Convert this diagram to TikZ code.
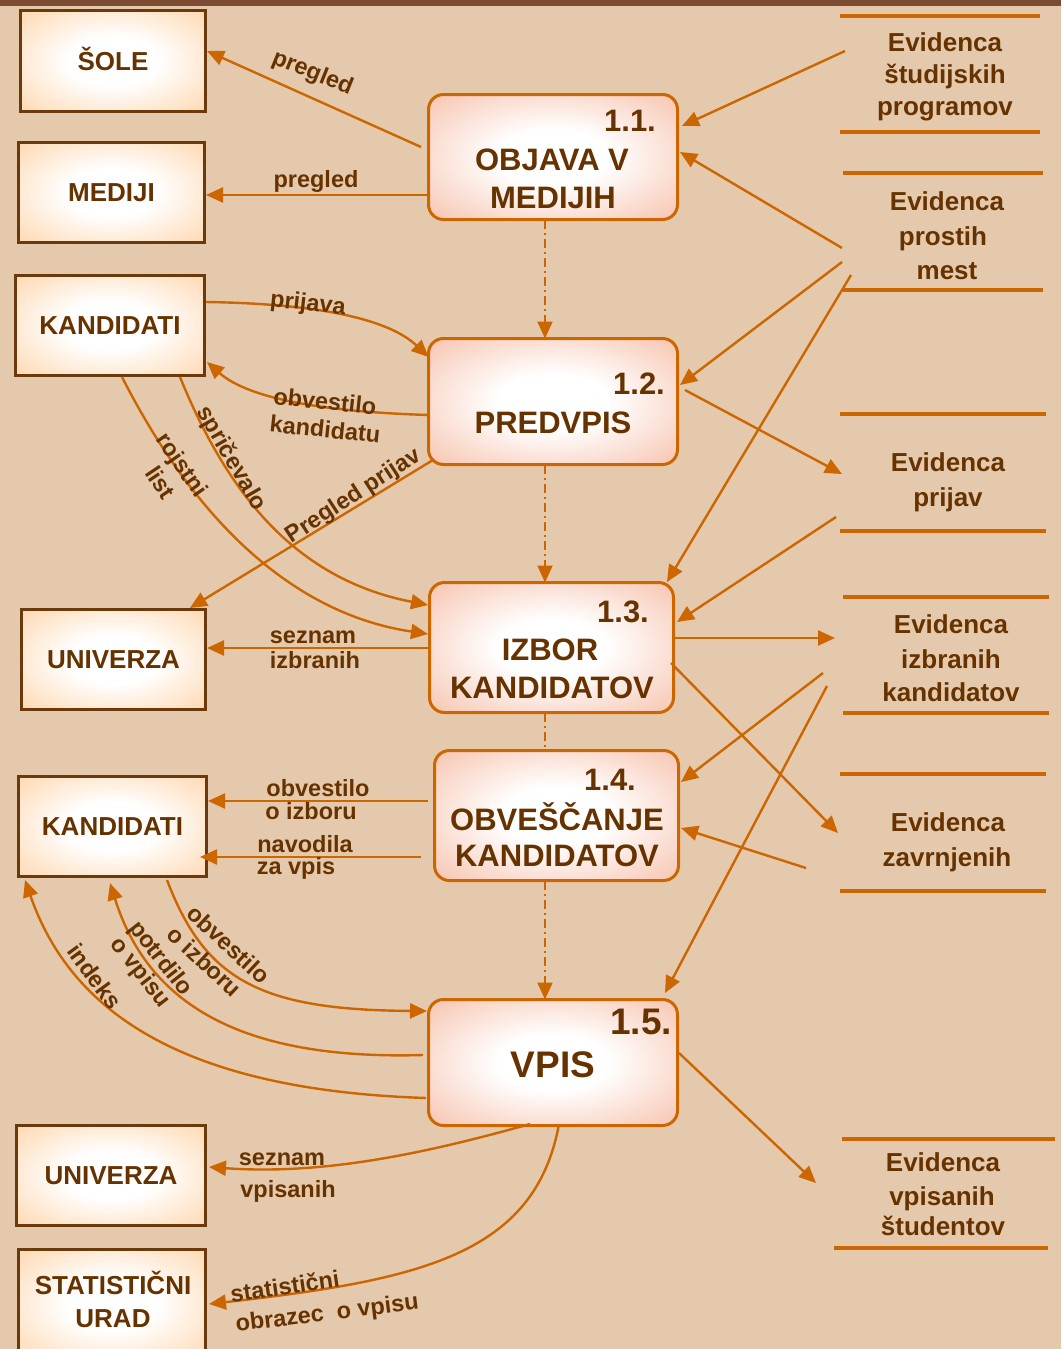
\documentclass[tikz,border=0pt]{standalone}
\usepackage{fontspec}
\setmainfont{Liberation Sans}
\usetikzlibrary{arrows.meta,calc}
\definecolor{bgc}{HTML}{E5C9AC}
\definecolor{topbar}{HTML}{7B4B32}
\definecolor{txt}{HTML}{663300}
\definecolor{ora}{HTML}{CC6600}
\definecolor{entb}{HTML}{6B3A0C}
\definecolor{entout}{HTML}{FFCC99}
\definecolor{procout}{HTML}{F5B49A}
\pgfdeclareradialshading{entshade}{\pgfpoint{0bp}{0bp}}{color(0bp)=(white); color(12bp)=(white); color(43bp)=(entout); color(50bp)=(entout)}
\pgfdeclareradialshading{procshade}{\pgfpoint{0bp}{0bp}}{color(0bp)=(white); color(11bp)=(white); color(42bp)=(procout); color(50bp)=(procout)}
\tikzset{
 enttxt/.style={inner sep=0pt, outer sep=0pt, text=txt, font=\fontsize{26}{30}\selectfont\bfseries, text height=18.7pt, text depth=0pt},
 ent/.style={enttxt, draw=entb, line width=3pt, shading=entshade},
 proc/.style={draw=ora, line width=3pt, rounded corners=15pt, shading=procshade, inner sep=0pt, outer sep=0pt},
 ptxt/.style={text=txt, font=\fontsize{31}{36}\selectfont\bfseries, inner sep=0pt, text height=22.3pt, text depth=0pt},
 pbig/.style={text=txt, font=\fontsize{37}{42}\selectfont\bfseries, inner sep=0pt, text height=26.6pt, text depth=0pt},
 store/.style={inner sep=0pt, outer sep=0pt, draw=none},
 sline/.style={draw=ora, line width=4pt},
 stxt/.style={text=txt, font=\fontsize{26}{30}\selectfont\bfseries, inner sep=0pt, text height=18.7pt, text depth=2pt},
 lbl/.style={text=txt, font=\fontsize{23.5}{28}\selectfont\bfseries, inner sep=0pt, text height=17pt, text depth=2pt},
 tip/.style={-{Triangle[length=17pt,width=15pt]}},
 conn/.style={draw=ora, line width=2.4pt, tip},
 ddash/.style={draw=ora, line width=2.2pt, dash pattern=on 9pt off 4pt on 2pt off 4pt},
}
\begin{document}
\begin{tikzpicture}[x=1pt,y=-1pt]
\clip (0,0) rectangle (1061,1349);
\fill[bgc] (0,0) rectangle (1061,1349);
\fill[topbar] (0,0) rectangle (1061,6);

% external entities
\node[ent, minimum width=185, minimum height=101] (e1) at (113,61) {ŠOLE};
\node[ent, minimum width=186, minimum height=100] (e2) at (111.5,192.5) {MEDIJI};
\node[ent, minimum width=189, minimum height=100] (e3) at (110,325.5) {KANDIDATI};
\node[ent, minimum width=184, minimum height=100] (e4) at (113.5,659.5) {UNIVERZA};
\node[ent, minimum width=188, minimum height=100] (e5) at (112.5,826.5) {KANDIDATI};
\node[ent, minimum width=189, minimum height=100] (e6) at (111,1175.5) {UNIVERZA};
\node[ent, minimum width=187, minimum height=110] (e7) at (112,1304) {};
\node[enttxt] (e7a) at (113,1285) {STATISTIČNI};
\node[enttxt] (e7b) at (113,1318) {URAD};

% processes
\node[proc, minimum width=249, minimum height=125] (p1) at (553,157) {};
\node[ptxt] (p1n) at (630,120) {1.1.};
\node[ptxt] (p1a) at (552,159) {OBJAVA V};
\node[ptxt] (p1b) at (553,197) {MEDIJIH};

\node[proc, minimum width=249, minimum height=126] (p2) at (553,401.5) {};
\node[ptxt] (p2n) at (639,383) {1.2.};
\node[ptxt] (p2a) at (553,422) {PREDVPIS};

\node[proc, minimum width=244, minimum height=130] (p3) at (551.5,647.5) {};
\node[ptxt] (p3n) at (623,611) {1.3.};
\node[ptxt] (p3a) at (550,649) {IZBOR};
\node[ptxt] (p3b) at (552,687) {KANDIDATOV};

\node[proc, minimum width=244, minimum height=130] (p4) at (556.5,815.5) {};
\node[ptxt] (p4n) at (610,779) {1.4.};
\node[ptxt] (p4a) at (557,819) {OBVEŠČANJE};
\node[ptxt] (p4b) at (557,855) {KANDIDATOV};

\node[proc, minimum width=249, minimum height=126] (p5) at (553,1062.5) {};
\node[pbig] (p5n) at (641,1021) {1.5.};
\node[pbig] (p5a) at (553,1064) {VPIS};

% data stores
\node[store, minimum width=200, minimum height=116] (s1) at (940,74) {};
\node[store, minimum width=200, minimum height=117] (s2) at (943,231.5) {};
\node[store, minimum width=206, minimum height=117] (s3) at (943,472.5) {};
\node[store, minimum width=206, minimum height=116] (s4) at (946,655) {};
\node[store, minimum width=206, minimum height=117] (s5) at (943,832.5) {};
\node[store, minimum width=214, minimum height=109] (s6) at (945,1193.5) {};
\foreach \s in {s1,s2,s3,s4,s5}{
  \draw[sline] (\s.north west) -- (\s.north east);
  \draw[sline] (\s.south west) -- (\s.south east);
}
\draw[sline] ($(s6.north west)+(4,0)$) -- ($(s6.north east)+(3,0)$);
\draw[sline] ($(s6.south west)+(-4,0)$) -- ($(s6.south east)+(-4,0)$);

\node[stxt] (s1a) at (945,43) {Evidenca};
\node[stxt] (s1b) at (945,75) {študijskih};
\node[stxt] (s1c) at (945,107) {programov};
\node[stxt] (s2a) at (947,202) {Evidenca};
\node[stxt] (s2b) at (943,237) {prostih};
\node[stxt] (s2c) at (947,271) {mest};
\node[stxt] (s3a) at (948,463) {Evidenca};
\node[stxt] (s3b) at (948,498) {prijav};
\node[stxt] (s4a) at (951,625) {Evidenca};
\node[stxt] (s4b) at (951,660) {izbranih};
\node[stxt] (s4c) at (951,693) {kandidatov};
\node[stxt] (s5a) at (948,823) {Evidenca};
\node[stxt] (s5b) at (947,858) {zavrnjenih};
\node[stxt] (s6a) at (943,1163) {Evidenca};
\node[stxt] (s6b) at (942,1197) {vpisanih};
\node[stxt] (s6c) at (943,1227) {študentov};

% control flow (dash-dot)
\draw[ddash, tip] ($(p1.south)+(-8,0)$) -- ($(p2.north)+(-8,0)$);
\draw[ddash, tip] ($(p2.south)+(-8,0)$) -- ($(p3.north)+(-6.5,0)$);
\draw[ddash] ($(p3.south)+(-6.5,0)$) -- ($(p4.north)+(-11.5,0)$);
\draw[ddash, tip] ($(p4.south)+(-11.5,0)$) -- ($(p5.north)+(-8,0)$);

% left data flows
\draw[conn] ($(p1.north west)+(-7.5,52.5)$) -- ($(e1.east)+(1.5,-10)$);
\draw[conn] ($(p1.west)+(0,38)$) -- ($(e2.east)+(1.5,2.5)$);
\draw[conn] ($(e3.east)+(1.5,-23.5)$) .. controls (340,304) and (395,325) .. ($(p2.north west)+(0,18.5)$);
\draw[conn] ($(p2.west)+(0,13.5)$) .. controls (330,412) and (250,400) .. ($(e3.east)+(2.5,36.5)$);
\draw[conn] ($(p2.south west)+(4.5,-4.5)$) -- ($(e4.north west)+(168.5,-1.5)$);
\draw[conn] ($(e3.south west)+(106.5,1.5)$) .. controls (200,530) and (300,615) .. ($(p3.west)+(-1.5,-13.5)$);
\draw[conn] ($(e3.south west)+(164.5,1.5)$) .. controls (230,500) and (300,580) .. ($(p3.west)+(-1.5,-42.5)$);
\draw[conn] ($(p3.west)+(-1.5,0.5)$) -- ($(e4.east)+(1.5,-11.5)$);
\draw[conn] ($(p4.west)+(-6.5,-14.5)$) -- ($(e5.east)+(1.5,-25.5)$);
\draw[conn] ($(p4.west)+(-13.5,41.5)$) -- ($(e5.east)+(-6.5,30.5)$);
\draw[conn] ($(e5.south west)+(148.5,3.5)$) .. controls (205,980) and (260,1010) .. ($(p5.north west)+(-1.5,11.5)$);
\draw[conn] ($(p5.west)+(-5.5,-7.5)$) .. controls (250,1060) and (150,1010) .. ($(e5.south west)+(91.5,6.5)$);
\draw[conn] ($(p5.west)+(-2.5,35.5)$) .. controls (180,1090) and (70,1010) .. ($(e5.south west)+(6.5,3.5)$);
\draw[conn] ($(p5.south west)+(101.5,-1.5)$) .. controls (420,1155) and (320,1175) .. ($(e6.east)+(3.5,-8.5)$);
\draw[conn] ($(p5.south west)+(130.5,-1.5)$) .. controls (535,1255) and (420,1280) .. ($(e7.east)+(3.5,0)$);

% right data flows
\draw[conn] ($(s1.west)+(5,-23)$) -- ($(p1.east)+(4.5,-31)$);
\draw[conn] ($(s2.west)+(-1,16.5)$) -- ($(p1.east)+(2.5,-5)$);
\draw[conn] ($(s2.west)+(-1,30.5)$) -- ($(p2.east)+(2.5,-16.5)$);
\draw[conn] ($(s2.west)+(8,43.5)$) -- ($(p3.north east)+(-6.5,-0.5)$);
\draw[conn] ($(p2.east)+(7.5,-11.5)$) -- ($(s3.west)+(2,1.5)$);
\draw[conn] ($(s3.west)+(-4,44.5)$) -- ($(p3.east)+(3.5,-25.5)$);
\draw[conn] ($(p3.east)+(1.5,-9.5)$) -- ($(s4.west)+(-8,-17)$);
\draw[conn] ($(p3.east)+(-2.5,15.5)$) -- ($(s5.west)+(-2,0.5)$);
\draw[conn] ($(s4.west)+(-20,18)$) -- ($(p4.east)+(2.5,-33.5)$);
\draw[conn] ($(s4.west)+(-16,31)$) -- ($(p5.north east)+(-12.5,-6.5)$);
\draw[conn] ($(s5.west)+(-34,35.5)$) -- ($(p4.east)+(2.5,12.5)$);
\draw[conn] ($(p5.east)+(1.5,-9.5)$) -- ($(s6.west)+(-22,-10.5)$);

% flow labels
\node[lbl, rotate=-22] (l1) at (313,72) {pregled};
\node[lbl] (l2) at (316,180) {pregled};
\node[lbl, rotate=-6] (l3) at (308,303) {prijava};
\node[lbl, rotate=-6] (l4a) at (325,402) {obvestilo};
\node[lbl, rotate=-6] (l4b) at (325,430) {kandidatu};
\node[lbl, rotate=33] (l5) at (353,495) {Pregled prijav};
\node[lbl, rotate=-55] (l6a) at (182,465) {rojstni};
\node[lbl, rotate=-56] (l6b) at (160,483) {list};
\node[lbl, rotate=-60] (l7) at (232,458) {spričevalo};
\node[lbl] (l8a) at (313,636) {seznam};
\node[lbl] (l8b) at (315,661) {izbranih};
\node[lbl] (l9a) at (318,789) {obvestilo};
\node[lbl] (l9b) at (311,812) {o izboru};
\node[lbl] (l10a) at (305,845) {navodila};
\node[lbl] (l10b) at (296,867) {za vpis};
\node[lbl, rotate=-43] (l11a) at (228,945) {obvestilo};
\node[lbl, rotate=-43] (l11b) at (204,962) {o izboru};
\node[lbl, rotate=-52] (l12a) at (161,958) {potrdilo};
\node[lbl, rotate=-52] (l12b) at (141,972) {o vpisu};
\node[lbl, rotate=-54] (l13) at (94,977) {indeks};
\node[lbl] (l14a) at (282,1158) {seznam};
\node[lbl] (l14b) at (288,1190) {vpisanih};
\node[lbl, rotate=8] (l15a) at (285,1287) {statistični};
\node[lbl, rotate=7] (l15b) at (327,1313) {obrazec\ \ o vpisu};
\end{tikzpicture}
\end{document}
